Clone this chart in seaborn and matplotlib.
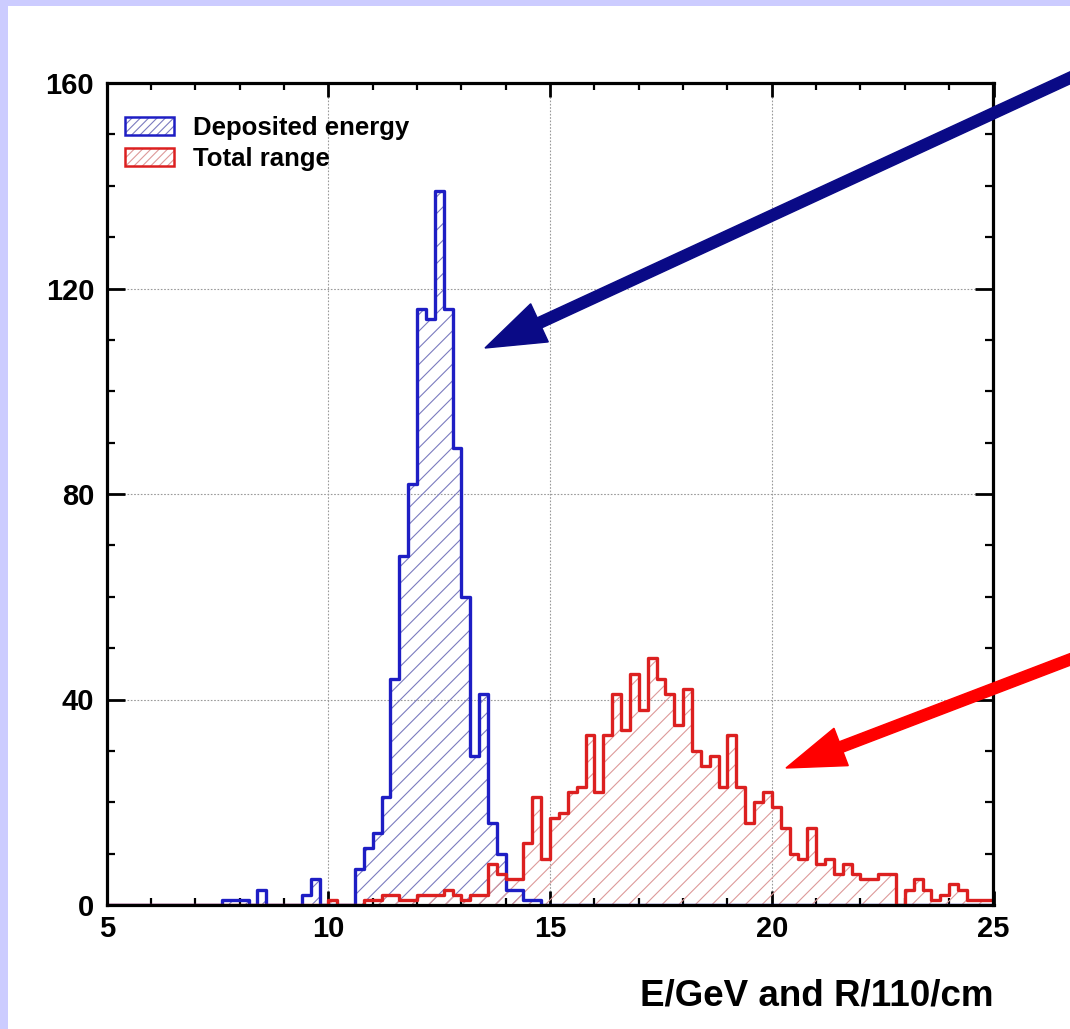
import numpy as np
import pandas as pd
import matplotlib
matplotlib.use("Agg")
import matplotlib.pyplot as plt
import seaborn as sns
from matplotlib.patches import Rectangle, FancyArrow, Patch
from matplotlib.transforms import IdentityTransform
from matplotlib.ticker import MultipleLocator, FixedLocator
from matplotlib.legend_handler import HandlerTuple

# ---- binning: 100 bins of 0.2 between 5 and 25 ----
bin_start = 5.0
bin_stop = 25.0
bin_width = 0.2
n_bins = 100
bin_centers = bin_start + bin_width * (np.arange(n_bins) + 0.5)

# counts per bin (10 bins per row)
deposited_energy = [
    0, 0, 0, 0, 0, 0, 0, 0, 0, 0,
    0, 0, 0, 1, 1, 1, 0, 3, 0, 0,
    0, 0, 2, 5, 0, 0, 0, 0, 7, 11,
    14, 21, 44, 68, 82, 116, 114, 139, 116, 89,
    60, 29, 41, 16, 10, 3, 3, 1, 1, 0,
    0, 0, 0, 0, 0, 0, 0, 0, 0, 0,
    0, 0, 0, 0, 0, 0, 0, 0, 0, 0,
    0, 0, 0, 0, 0, 0, 0, 0, 0, 0,
    0, 0, 0, 0, 0, 0, 0, 0, 0, 0,
    0, 0, 0, 0, 0, 0, 0, 0, 0, 0,
]
total_range = [
    0, 0, 0, 0, 0, 0, 0, 0, 0, 0,
    0, 0, 0, 0, 0, 0, 0, 0, 0, 0,
    0, 0, 0, 0, 0, 1, 0, 0, 0, 1,
    1, 2, 2, 1, 1, 2, 2, 2, 3, 2,
    1, 2, 2, 8, 6, 5, 5, 12, 21, 9,
    17, 18, 22, 23, 33, 22, 33, 41, 34, 45,
    38, 48, 44, 41, 35, 42, 30, 27, 29, 23,
    33, 23, 16, 20, 22, 19, 15, 10, 9, 15,
    8, 9, 6, 8, 6, 5, 5, 6, 6, 0,
    3, 5, 3, 1, 2, 4, 3, 1, 1, 1,
]
series_names = ["Deposited energy", "Total range"]
x_ticks = [5, 10, 15, 20, 25]
y_ticks = [0, 40, 80, 120, 160]
x_title = "E/GeV and R/110/cm"

df = pd.DataFrame({
    "x": np.concatenate([bin_centers, bin_centers]),
    "count": deposited_energy + total_range,
    "series": [series_names[0]] * n_bins + [series_names[1]] * n_bins,
})

# ---- style ----
sns.set_style("ticks")
plt.rcParams["font.family"] = ["Liberation Sans", "DejaVu Sans"]
plt.rcParams["font.weight"] = "bold"
plt.rcParams["hatch.linewidth"] = 0.8
for key in ("text.color", "axes.labelcolor", "xtick.color", "ytick.color",
            "xtick.labelcolor", "ytick.labelcolor"):
    plt.rcParams[key] = "black"

line_colors = {series_names[0]: "#1e1ec4", series_names[1]: "#dc2020"}
hatch_colors = {series_names[0]: "#7b7bbf", series_names[1]: "#dd9a9a"}
hatch_style = "//"

W, H = 1070, 1029
fig = plt.figure(figsize=(W / 100, H / 100), dpi=100)
fig.patch.set_facecolor("#ccccff")
fig.add_artist(Rectangle((8 / W, 0), 1, (H - 6) / H, transform=fig.transFigure,
                         facecolor="white", edgecolor="none", zorder=-5))

ax = fig.add_axes([106.7 / W, (H - 905) / H, 886.8 / W, 822 / H])
ax.set_facecolor("white")

hist_kws = dict(x="x", weights="count", binwidth=bin_width,
                binrange=(bin_start, bin_stop), element="step", ax=ax)

legend_handles = []
for name in series_names:
    sub = df[df["series"] == name]
    with plt.rc_context({"hatch.color": hatch_colors[name]}):
        n_before = len(ax.collections)
        sns.histplot(data=sub, fill=True, alpha=1, color=hatch_colors[name],
                     linewidth=0, hatch=hatch_style, zorder=2, **hist_kws)
        for coll in ax.collections[n_before:]:
            coll.set_facecolor("none")
            coll.set_edgecolor(hatch_colors[name])
            coll.set_linewidth(0)
        hatch_patch = Patch(facecolor="none", edgecolor=hatch_colors[name],
                            linewidth=0, hatch="////")
    sns.histplot(data=sub, fill=False, color=line_colors[name],
                 linewidth=2.4, zorder=3, **hist_kws)
    outline_patch = Patch(facecolor="none", edgecolor=line_colors[name], linewidth=1.8)
    legend_handles.append((hatch_patch, outline_patch))

ax.set_xlim(bin_start, bin_stop)
ax.set_ylim(0, 160)
ax.xaxis.set_major_locator(FixedLocator(x_ticks))
ax.yaxis.set_major_locator(FixedLocator(y_ticks))
ax.xaxis.set_minor_locator(MultipleLocator(1))
ax.yaxis.set_minor_locator(MultipleLocator(10))
ax.set_xticklabels([str(v) for v in x_ticks])
ax.set_yticklabels([str(v) for v in y_ticks])

ax.grid(True, which="major", linestyle=(0, (1.5, 1.5)), linewidth=0.8, color="#9a9a9a", zorder=1)
ax.set_axisbelow(True)

for s in ax.spines.values():
    s.set_visible(True)
    s.set_linewidth(2.3)
    s.set_color("black")
    s.set_zorder(5)

ax.tick_params(axis="both", which="both", direction="in", top=True, right=True,
               color="black", labelcolor="black", labelsize=21)
ax.tick_params(axis="x", which="major", length=10, width=2.0, pad=7)
ax.tick_params(axis="x", which="minor", length=5, width=1.6)
ax.tick_params(axis="y", which="major", length=13, width=2.0, pad=9)
ax.tick_params(axis="y", which="minor", length=6, width=1.6)
for lab in ax.get_xticklabels() + ax.get_yticklabels():
    lab.set_fontweight("bold")

ax.set_ylabel("")
ax.set_xlabel(x_title, fontsize=26.5, fontweight="bold", color="black", loc="right")
ax.xaxis.set_label_coords(1.0, -0.090)
ax.xaxis.label.set_va("top")

leg = ax.legend(legend_handles, series_names, handler_map={tuple: HandlerTuple(ndivide=1)},
                loc="upper left", bbox_to_anchor=(0.0206, 0.960), borderaxespad=0,
                borderpad=0, frameon=False, prop={"size": 18.5, "weight": "bold"},
                handlelength=1.9, handleheight=0.7, handletextpad=0.75,
                labelspacing=0.28)
for t in leg.get_texts():
    t.set_color("black")

# pointer arrows
fig.add_artist(FancyArrow(1100, H - 64, 485 - 1100, (H - 348) - (H - 64), width=11,
                          head_width=42, head_length=60, length_includes_head=True,
                          color="#0a0a86", transform=IdentityTransform(), zorder=10))
fig.add_artist(FancyArrow(1100, H - 648, 786 - 1100, (H - 768) - (H - 648), width=11,
                          head_width=40, head_length=59, length_includes_head=True,
                          color="#ff0000", transform=IdentityTransform(), zorder=10))

fig.savefig("out.png", dpi=100)
